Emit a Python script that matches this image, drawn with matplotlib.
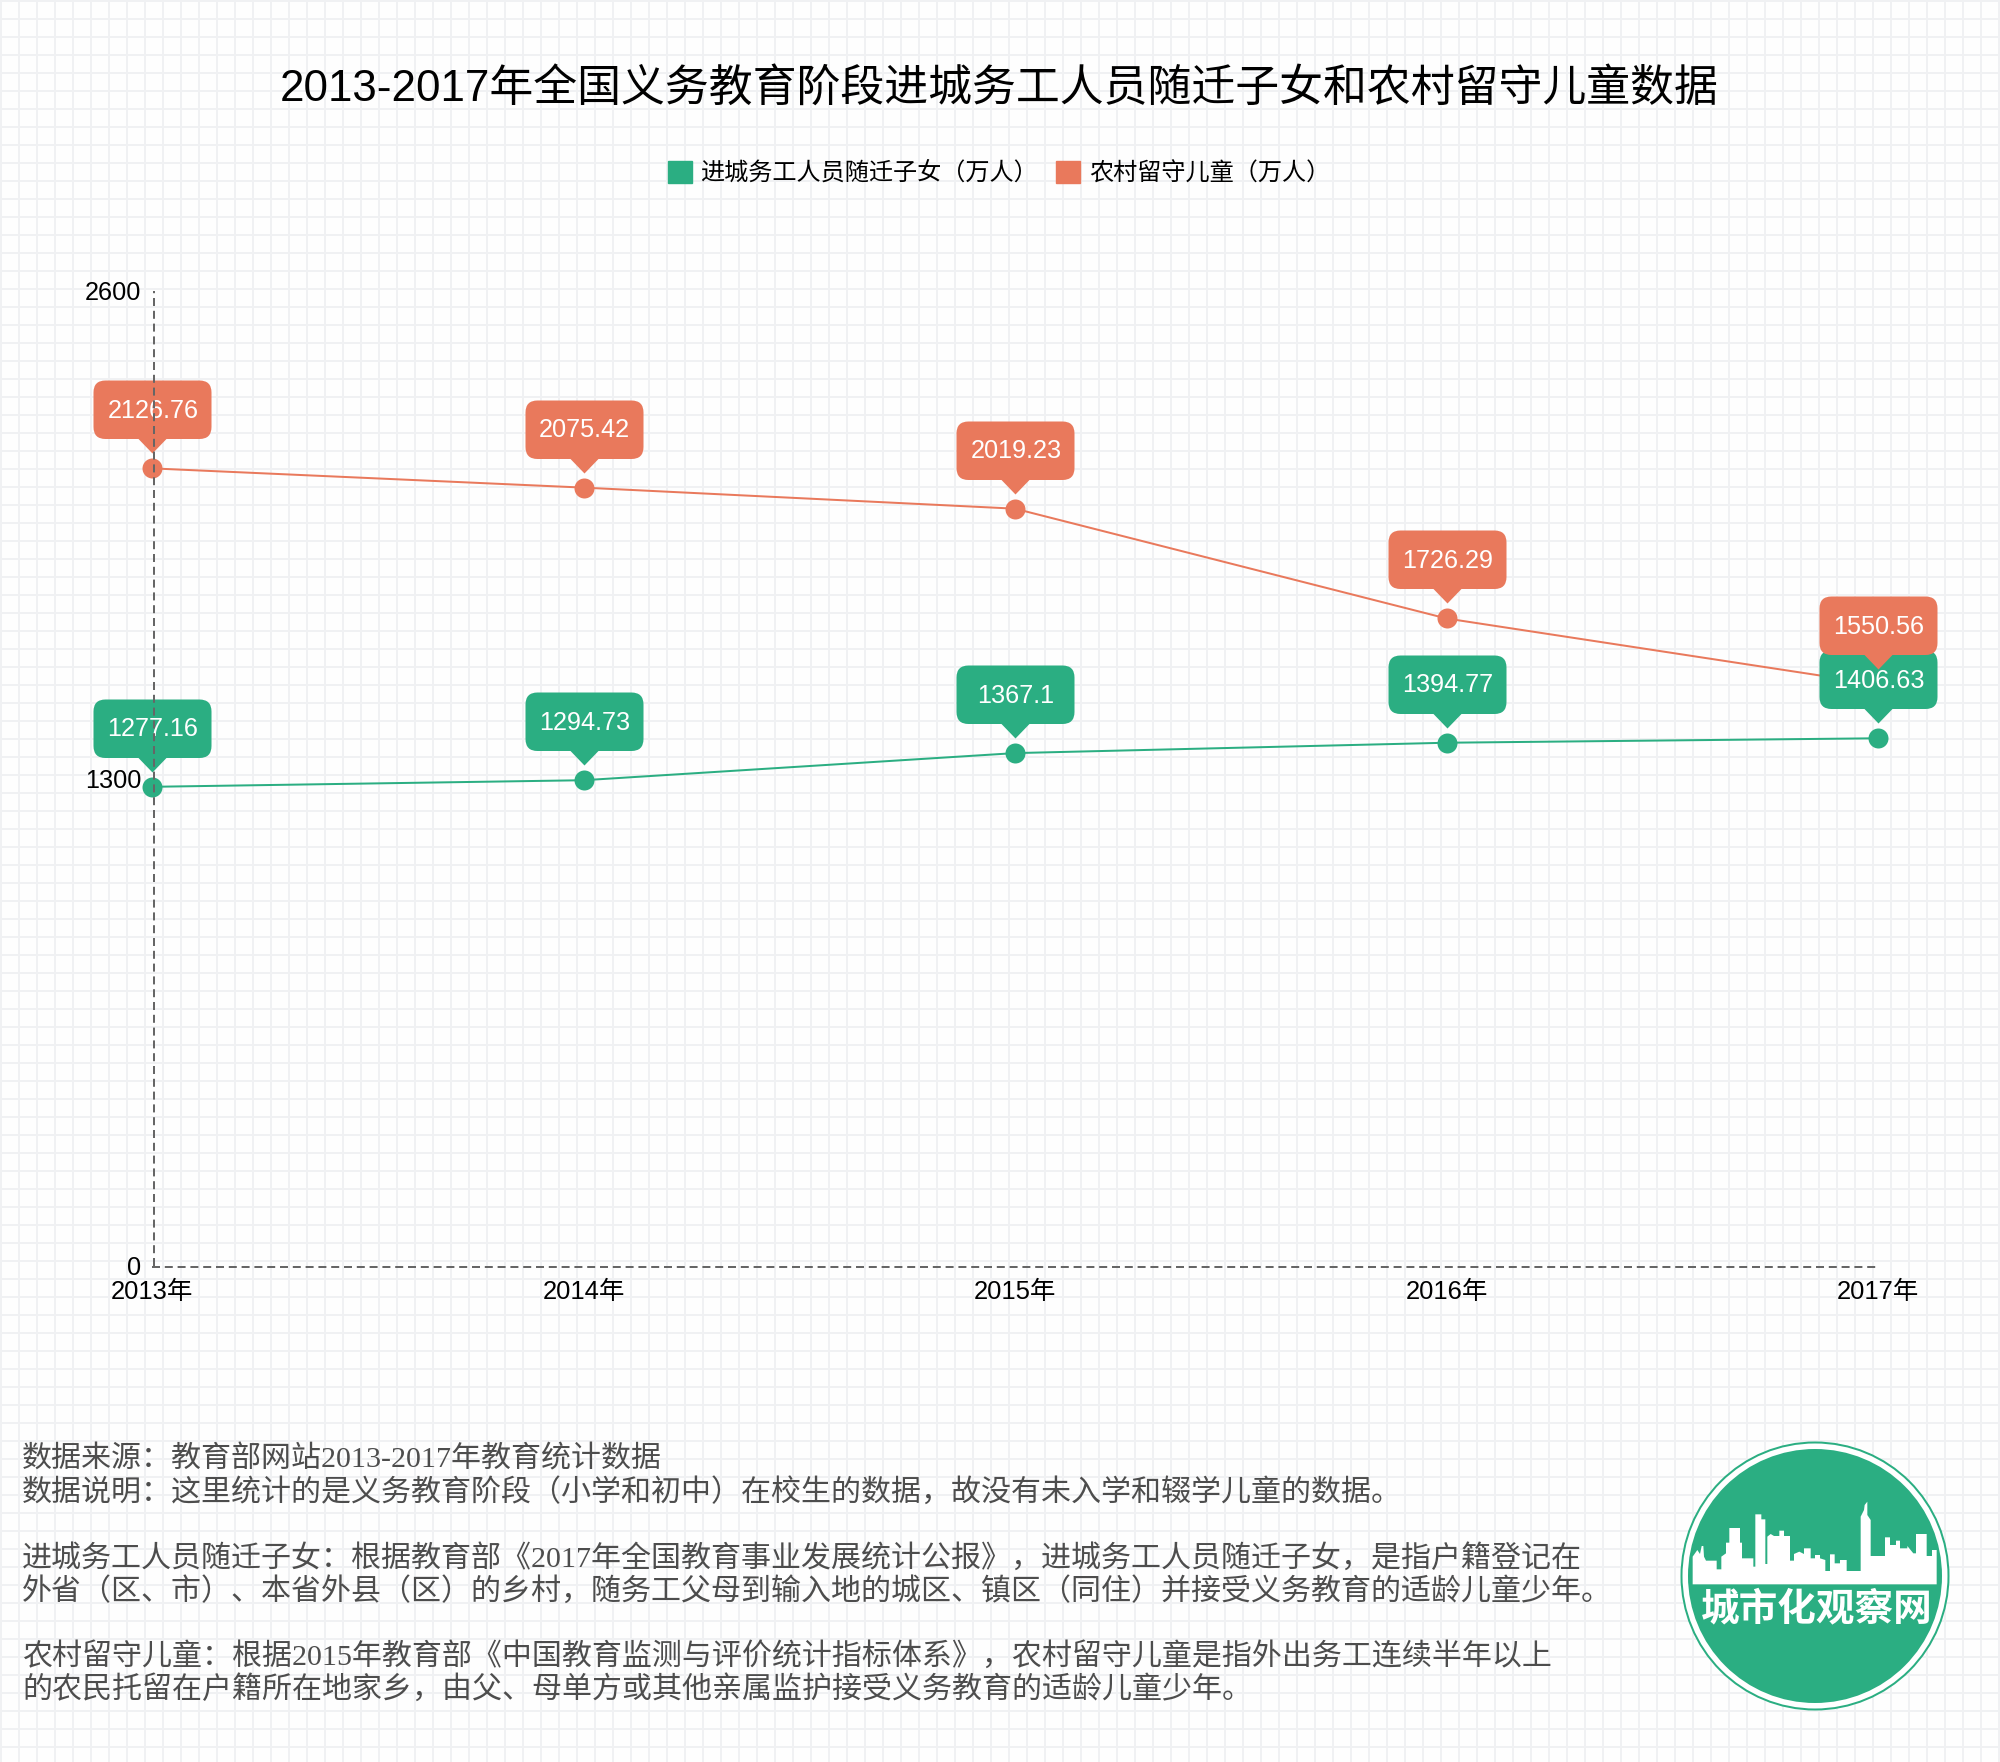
import matplotlib
matplotlib.use("Agg")
import matplotlib.pyplot as plt
from matplotlib.path import Path
from matplotlib.patches import Circle, Polygon, Patch

# ---- data ----
years = ["2013年", "2014年", "2015年", "2016年", "2017年"]
migrant = [1277.16, 1294.73, 1367.1, 1394.77, 1406.63]
left_behind = [2126.76, 2075.42, 2019.23, 1726.29, 1550.56]
y_ticks = [0, 1300, 2600]
series_names = ["进城务工人员随迁子女（万人）", "农村留守儿童（万人）"]
title = "2013-2017年全国义务教育阶段进城务工人员随迁子女和农村留守儿童数据"
notes = [
    (1459.5, "数据来源：教育部网站2013-2017年教育统计数据"),
    (1492.5, "数据说明：这里统计的是义务教育阶段（小学和初中）在校生的数据，故没有未入学和辍学儿童的数据。"),
    (1558.5, "进城务工人员随迁子女：根据教育部《2017年全国教育事业发展统计公报》，进城务工人员随迁子女，是指户籍登记在"),
    (1591.5, "外省（区、市）、本省外县（区）的乡村，随务工父母到输入地的城区、镇区（同住）并接受义务教育的适龄儿童少年。"),
    (1656.5, "农村留守儿童：根据2015年教育部《中国教育监测与评价统计指标体系》，农村留守儿童是指外出务工连续半年以上"),
    (1689.5, "的农民托留在户籍所在地家乡，由父、母单方或其他亲属监护接受义务教育的适龄儿童少年。"),
]

GREEN = "#2BAE82"
ORANGE = "#E9795C"
W, H, DPI = 2000, 1762, 100
PX = 72 / DPI
SANS = ["Liberation Sans", "Noto Sans CJK SC"]
SERIF = ["Liberation Serif", "Noto Sans CJK SC"]
plt.rcParams["font.family"] = SANS

fig = plt.figure(figsize=(W / DPI, H / DPI), dpi=DPI, facecolor="#FEFEFE")

# ---- page grid, in pixel coordinates ----
bg = fig.add_axes([0, 0, 1, 1], zorder=0)
bg.set_xlim(0, W)
bg.set_ylim(H, 0)
bg.axis("off")
bg.vlines(range(1, W, 18), 0, H, color="#F0F1F3", lw=2 * PX)
bg.hlines(range(1, H, 18), 0, W, color="#F0F1F3", lw=2 * PX)

# ---- main chart ----
x0, x1, ytop, ybot = 152, 1878, 291, 1265.5
ax = fig.add_axes([x0 / W, 1 - ybot / H, (x1 - x0) / W, (ybot - ytop) / H], zorder=2)
ax.patch.set_alpha(0)
xs = list(range(len(years)))
ax.set_xlim(0, 4)
ax.set_ylim(0, 2600)
ax.set_xticks(xs, years)
ax.set_yticks(y_ticks)
ax.tick_params(length=0, labelcolor="black")
ax.tick_params(axis="x", pad=9.6, labelsize=18.4)
ax.tick_params(axis="y", pad=9.3, labelsize=18.2)
for s in ("top", "right"):
    ax.spines[s].set_visible(False)
for s in ("left", "bottom"):
    ax.spines[s].set_linestyle((0, (4, 2.4)))
    ax.spines[s].set_linewidth(2 * PX)
    ax.spines[s].set_color("#666666")
    ax.spines[s].set_capstyle("butt")
    ax.spines[s].set_zorder(20)
ax.spines["left"].set_position(("outward", -2 * PX))
ax.spines["bottom"].set_position(("outward", 1.5 * PX))


def callout_marker():
    w, r, top, bot, tip, tw = 59, 12, 88, 29.5, 15, 14
    v = [(-w + r, bot), (-tw, bot), (0, tip), (tw, bot), (w - r, bot), (w, bot), (w, bot + r),
         (w, top - r), (w, top), (w - r, top), (-w + r, top), (-w, top), (-w, top - r),
         (-w, bot + r), (-w, bot), (-w + r, bot), (-w + r, bot)]
    c = [Path.MOVETO, Path.LINETO, Path.LINETO, Path.LINETO, Path.LINETO, Path.CURVE3, Path.CURVE3,
         Path.LINETO, Path.CURVE3, Path.CURVE3, Path.LINETO, Path.CURVE3, Path.CURVE3,
         Path.LINETO, Path.CURVE3, Path.CURVE3, Path.CLOSEPOLY]
    return Path(v, c), 2 * top * PX


bubble, bubble_size = callout_marker()

ax.plot(xs, left_behind, color=ORANGE, lw=2 * PX, marker="o", ms=20 * PX, mew=0, clip_on=False, zorder=3)
ax.plot(xs, migrant, color=GREEN, lw=2 * PX, marker="o", ms=20 * PX, mew=0, clip_on=False, zorder=4)

for k, (vals, col) in enumerate(((migrant, GREEN), (left_behind, ORANGE))):
    z = 5 + 2 * k
    ax.plot(xs, vals, ls="none", marker=bubble, ms=bubble_size, color=col, mew=0, clip_on=False, zorder=z)
    for xi, v in zip(xs, vals):
        ax.annotate(str(v), (xi, v), xytext=(1 * PX, 57.5 * PX), textcoords="offset points", ha="center",
                    va="center", color="white", fontsize=18.2, zorder=z + 1, annotation_clip=False)

# ---- title & legend ----
fig.text(999 / W, 1 - 89 / H, title, ha="center", va="center", fontsize=31.6, color="black", zorder=3)
fig.legend(handles=[Patch(color=GREEN, label=series_names[0]), Patch(color=ORANGE, label=series_names[1])],
           loc="center", bbox_to_anchor=(999 / W, 1 - 173.5 / H), ncol=2, frameon=False, fontsize=17.4,
           handlelength=1.0, handleheight=1.0, handletextpad=0.35, columnspacing=0.75)

# ---- notes ----
for y, line in notes:
    bg.text(22, y, line, family=SERIF, fontsize=21.6, color="#4D4D4D", va="center", ha="left")

# ---- logo (decoration, pixel coordinates) ----
logo_c = (1815, 1576)
skyline_zoom = [
    (218, 553), (218, 470), (232, 450), (240, 462), (245, 438), (250, 438), (252, 470), (258, 482), (290, 482),
    (290, 508), (304, 508), (304, 470), (318, 460), (318, 428), (328, 428), (328, 384), (360, 384), (360, 428),
    (366, 428), (366, 475), (400, 475), (400, 500), (406, 500), (406, 343), (424, 343), (424, 358), (436, 358),
    (436, 492), (442, 492), (442, 410), (452, 402), (462, 408), (478, 408), (478, 392), (492, 392), (492, 408),
    (510, 408), (510, 482), (522, 482), (522, 462), (538, 455), (552, 462), (552, 445), (572, 445), (572, 475),
    (585, 475), (585, 465), (600, 465), (600, 475), (616, 480), (616, 513), (630, 513), (630, 463), (644, 463),
    (644, 490), (660, 490), (660, 480), (680, 480), (680, 513), (722, 513), (722, 350), (732, 330), (734, 315),
    (742, 305), (742, 345), (752, 360), (752, 468), (795, 468), (795, 412), (810, 412), (810, 435), (828, 435),
    (828, 422), (840, 422), (840, 445), (862, 445), (862, 438), (880, 460), (888, 460), (888, 402), (920, 402),
    (920, 468), (936, 468), (936, 450), (950, 450), (950, 553),
]
bg.add_patch(Circle(logo_c, 133.5, fc="white", ec=GREEN, lw=2 * PX, zorder=3))
bg.add_patch(Circle(logo_c, 127, fc=GREEN, ec="none", zorder=4))
bg.add_patch(Polygon([(1620 + a / 3, 1400 + b / 3) for a, b in skyline_zoom], fc="white", ec="none", zorder=5))
bg.text(1817, 1609, "城市化观察网", color="white", fontsize=27.8, fontweight="bold", ha="center", va="center",
        family="Noto Sans CJK SC", zorder=6)

fig.savefig("out.png", dpi=DPI, facecolor=fig.get_facecolor())
